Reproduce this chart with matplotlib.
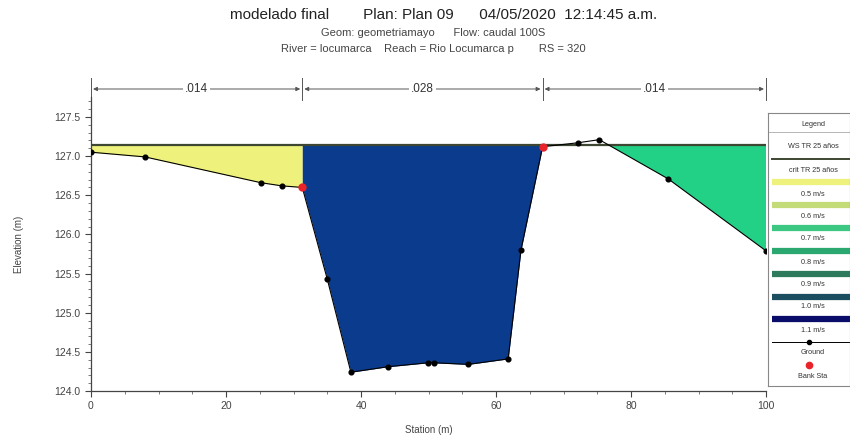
import numpy as np
import matplotlib
matplotlib.use("Agg")
import matplotlib.pyplot as plt
from matplotlib.ticker import MultipleLocator

plt.rcParams['font.family'] = ['Liberation Sans', 'DejaVu Sans']

# ---- data ----
station = [0.0, 8.0, 25.2, 28.3, 31.3, 35.0, 38.5, 44.0, 49.9, 50.8, 55.9,
           61.8, 63.7, 66.9, 72.1, 75.3, 85.5, 100.0]
elevation = [127.05, 126.99, 126.66, 126.62, 126.60, 125.43, 124.24, 124.31,
             124.36, 124.36, 124.34, 124.41, 125.80, 127.12, 127.17, 127.21,
             126.71, 125.79]
bank_stations = [31.3, 66.9]
water_surface = 127.14
n_breaks = [0.0, 31.3, 66.9, 100.0]
n_values = ['.014', '.028', '.014']
sub_colors = ['#eef27c', '#0b3b8c', '#22d086']

title1 = "modelado final        Plan: Plan 09      04/05/2020  12:14:45 a.m."
title2 = "Geom: geometriamayo      Flow: caudal 100S"
title3 = "River = locumarca    Reach = Rio Locumarca p        RS = 320"

legend_labels = ['WS TR 25 años', 'crit TR 25 años', '0.5 m/s', '0.6 m/s',
                 '0.7 m/s', '0.8 m/s', '0.9 m/s', '1.0 m/s', '1.1 m/s',
                 'Ground', 'Bank Sta']
legend_band_colors = ['#eef27c', '#c4dc78', '#3cc882', '#2aa870', '#2e7a5c',
                      '#1b4e5e', '#0a0c6a']

# ---- figure ----
W, H = 850, 442
fig = plt.figure(figsize=(W / 100, H / 100), dpi=100)

def fx(px):
    return px / W

def fy(py):
    return 1 - py / H

ax = fig.add_axes([fx(91), fy(391), fx(766) - fx(91), fy(97.4) - fy(391)])

st = np.array(station)
el = np.array(elevation)

# subsection fills
for i in range(3):
    lo, hi = n_breaks[i], n_breaks[i + 1]
    xs = np.linspace(lo, hi, 400)
    gs = np.interp(xs, st, el)
    ax.fill_between(xs, gs, water_surface, where=gs < water_surface,
                    interpolate=True, color=sub_colors[i], lw=0, zorder=2)

# water surface line
ax.plot([0, 100], [water_surface, water_surface], color='#3d4630', lw=1.6, zorder=3)

# ground
ax.plot(st, el, color='black', lw=0.8, zorder=4)
ax.plot(st, el, 'o', color='black', ms=3.4, zorder=5)
bank_el = np.interp(bank_stations, st, el)
ax.plot(bank_stations, bank_el, 'o', color='#e8242a', ms=5, zorder=6)

ax.set_xlim(0, 100)
ax.set_ylim(124.0, 127.75)
ax.xaxis.set_major_locator(MultipleLocator(20))
ax.xaxis.set_minor_locator(MultipleLocator(5))
ax.yaxis.set_major_locator(MultipleLocator(0.5))
ax.yaxis.set_minor_locator(MultipleLocator(0.1))
ax.yaxis.set_major_formatter(matplotlib.ticker.FormatStrFormatter('%.1f'))
for s in ['top', 'right']:
    ax.spines[s].set_visible(False)
for s in ['left', 'bottom']:
    ax.spines[s].set_color('#444444')
    ax.spines[s].set_linewidth(0.9)
ax.tick_params(axis='both', which='major', labelsize=7.5, length=4,
               direction='out', colors='#444444', labelcolor='#444444')
ax.tick_params(axis='both', which='minor', length=2, direction='out',
               colors='#666666')
ax.set_xlabel('Station (m)', fontsize=7, color='#444444', labelpad=10)
ax.set_ylabel('Elevation (m)', fontsize=7, color='#444444', labelpad=22)

# n-value annotations above the plot
tr = ax.get_xaxis_transform()
y_arrow = (391 - 89) / (391 - 97.4)
y_top = (391 - 78) / (391 - 97.4)
y_bot = (391 - 100) / (391 - 97.4)
for b in n_breaks:
    ax.plot([b, b], [y_bot, y_top], transform=tr, color='#555555', lw=0.7,
            clip_on=False)
for i, nv in enumerate(n_values):
    lo, hi = n_breaks[i], n_breaks[i + 1]
    ax.annotate('', xy=(lo + 0.3, y_arrow), xytext=(hi - 0.3, y_arrow),
                xycoords=tr, textcoords=tr,
                arrowprops=dict(arrowstyle='<|-|>', color='#555555', lw=0.7,
                                mutation_scale=6, shrinkA=0, shrinkB=0))
    ax.text((lo + hi) / 2, y_arrow, nv, transform=tr, ha='center',
            va='center', fontsize=8.5, color='#333333',
            bbox=dict(facecolor='white', edgecolor='none', pad=1.5))

# titles
fig.text(0.522, fy(15), title1, ha='center', va='center', fontsize=11,
         color='#222222')
fig.text(0.51, fy(33), title2, ha='center', va='center', fontsize=8,
         color='#444444')
fig.text(0.51, fy(49), title3, ha='center', va='center', fontsize=8,
         color='#444444')

# ---- legend panel ----
lax = fig.add_axes([fx(768), fy(386), 1 - fx(768), fy(113) - fy(386)])
lax.set_xlim(0, 1)
lax.set_ylim(386, 113)
lax.set_xticks([])
lax.set_yticks([])
for s in lax.spines.values():
    s.set_color('#888888')
    s.set_linewidth(0.8)

def ltext(y, s):
    lax.text(0.55, y, s, ha='center', va='center', fontsize=5.2,
             color='#333333')

ltext(124, 'Legend')
lax.plot([0, 1], [132, 132], color='#aaaaaa', lw=0.6)
ltext(147, legend_labels[0])
lax.plot([0.05, 1], [159, 159], color='#3d4630', lw=1.4)
ltext(170, legend_labels[1])
band_y = [182, 205, 228, 251, 274, 297, 319]
text_y = [194, 216, 239, 262, 284, 306, 330]
for i, (by, ty) in enumerate(zip(band_y, text_y)):
    lax.plot([0.05, 1], [by, by], color=legend_band_colors[i], lw=4.5,
             solid_capstyle='butt')
    ltext(ty, legend_labels[2 + i])
lax.plot([0.05, 1], [342, 342], color='black', lw=0.7)
lax.plot([0.5], [342], 'o', color='black', ms=3)
ltext(352, legend_labels[9])
lax.plot([0.5], [365], 'o', color='#e8242a', ms=4.5)
ltext(376, legend_labels[10])

fig.savefig('out.png', dpi=100)
